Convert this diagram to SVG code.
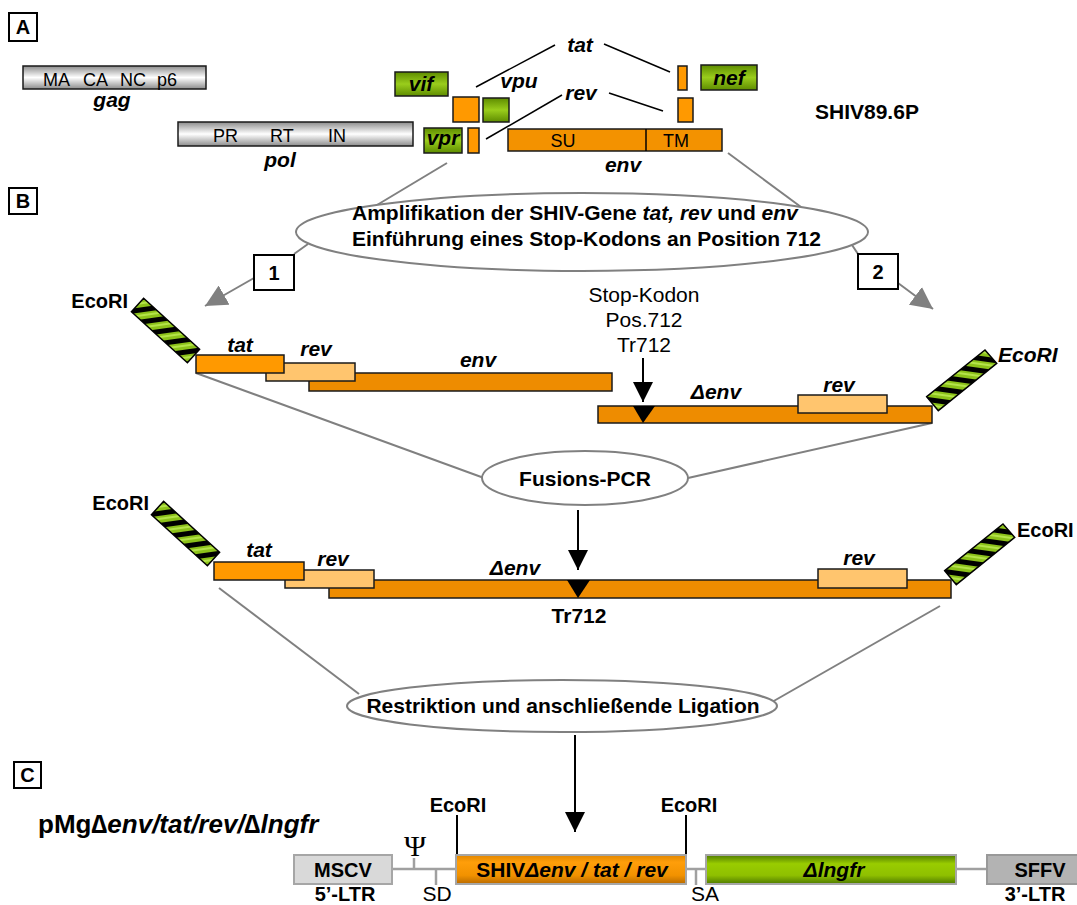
<svg xmlns="http://www.w3.org/2000/svg" width="1077" height="905" viewBox="0 0 1077 905">
<style>
text{font-family:"Liberation Sans",Arial,sans-serif;fill:#000}
.r{font-size:18px}
.r21{font-size:21px}
.b{font-size:21px;font-weight:bold}
.b20{font-size:20px;font-weight:bold}
.bi{font-size:21px;font-weight:bold;font-style:italic}
.m{text-anchor:middle}
.e{text-anchor:end}
.gk{stroke:#1a1a1a;stroke-width:1.5}
.or{fill:#FF9900}
.or2{fill:#EE8C00}
.lo{fill:#FFC56E}
.conn{stroke:#808080;stroke-width:2;fill:none}
.blk{stroke:#000;stroke-width:2;fill:none}
.spl{stroke:#000;stroke-width:1.5;fill:none}
.bb{stroke:#A0A0A0;stroke-width:2.5;fill:none}
.lbl{fill:#fff;stroke:#000;stroke-width:2}
.ell{fill:#fff;stroke:#808080;stroke-width:2}
.eco{stroke:#000;stroke-width:1.5}
</style>
<defs>
<linearGradient id="greyG" x1="0" y1="0" x2="0" y2="1">
<stop offset="0" stop-color="#8c8c8c"/><stop offset="0.5" stop-color="#ffffff"/><stop offset="1" stop-color="#8c8c8c"/>
</linearGradient>
<linearGradient id="greenG" x1="0" y1="0" x2="0" y2="1">
<stop offset="0" stop-color="#5E8C00"/><stop offset="0.5" stop-color="#9ACD1C"/><stop offset="1" stop-color="#5E8C00"/>
</linearGradient>
<linearGradient id="orC" x1="0" y1="0" x2="0" y2="1">
<stop offset="0" stop-color="#E08600"/><stop offset="0.25" stop-color="#FF9E0A"/><stop offset="0.7" stop-color="#F29200"/><stop offset="1" stop-color="#B86A00"/>
</linearGradient>
<linearGradient id="grC" x1="0" y1="0" x2="0" y2="1">
<stop offset="0" stop-color="#4F7A00"/><stop offset="0.3" stop-color="#99CC00"/><stop offset="0.7" stop-color="#8FC000"/><stop offset="1" stop-color="#4F7A00"/>
</linearGradient>
<pattern id="stripeD" patternUnits="userSpaceOnUse" width="12" height="12" patternTransform="rotate(-8)">
<rect width="12" height="12" fill="#8CC21A"/><rect y="7" width="12" height="2" fill="#B4E34A"/><rect width="12" height="5" fill="#000"/>
</pattern>
<pattern id="stripeU" patternUnits="userSpaceOnUse" width="12" height="12" patternTransform="rotate(8)">
<rect width="12" height="12" fill="#8CC21A"/><rect y="7" width="12" height="2" fill="#B4E34A"/><rect width="12" height="5" fill="#000"/>
</pattern>
<marker id="ahGrey" markerUnits="userSpaceOnUse" viewBox="0 0 20 20" refX="20" refY="10" markerWidth="22" markerHeight="22" orient="auto">
<path d="M0,0 L20,10 L0,20 Z" fill="#808080"/>
</marker>
<marker id="ahBlack" markerUnits="userSpaceOnUse" viewBox="0 0 20 20" refX="20" refY="10" markerWidth="20" markerHeight="20" orient="auto">
<path d="M0,0 L20,10 L0,20 Z" fill="#000"/>
</marker>
</defs>

<!-- section labels -->
<g id="labelA"><rect class="lbl" x="9" y="13" width="28" height="28"/><text class="b20 m" x="23" y="34">A</text></g>
<g id="labelB"><rect class="lbl" x="9" y="188" width="28" height="26"/><text class="b20 m" x="23" y="208">B</text></g>
<g id="labelC"><rect class="lbl" x="14" y="762" width="27" height="26"/><text class="b20 m" x="27.5" y="782">C</text></g>

<!-- connectors -->
<g id="connectors">
<line class="spl" x1="476" y1="87" x2="555" y2="45"/>
<line class="spl" x1="604" y1="44" x2="670" y2="72"/>
<line class="spl" x1="486" y1="139" x2="562" y2="95"/>
<line class="spl" x1="609" y1="93" x2="663" y2="111"/>
<line class="conn" x1="447" y1="163" x2="377" y2="205"/>
<line class="conn" x1="728" y1="153" x2="801" y2="207"/>
<line class="conn" x1="294" y1="254" x2="308" y2="244"/>
<line class="conn" x1="852" y1="245" x2="858" y2="254"/>
<line class="conn" x1="254" y1="278" x2="205" y2="306" marker-end="url(#ahGrey)"/>
<line class="conn" x1="898" y1="283" x2="933" y2="309" marker-end="url(#ahGrey)"/>
<line class="conn" x1="196" y1="373" x2="484" y2="478"/>
<line class="conn" x1="932" y1="423" x2="688" y2="478"/>
<line class="conn" x1="219" y1="588" x2="359" y2="694"/>
<line class="conn" x1="940" y1="606" x2="772" y2="702"/>
<line class="blk" x1="643" y1="358" x2="643" y2="402" marker-end="url(#ahBlack)"/>
<line class="blk" x1="578" y1="510" x2="578" y2="570" marker-end="url(#ahBlack)"/>
<line class="blk" x1="575" y1="735" x2="575" y2="832" marker-end="url(#ahBlack)"/>
</g>

<!-- Section A genome -->
<g id="gag"><rect class="gk" x="23" y="66" width="183" height="23" fill="url(#greyG)"/>
<text class="r" x="43" y="86">MA</text><text class="r" x="83" y="86">CA</text><text class="r" x="120" y="86">NC</text><text class="r" x="157" y="86">p6</text>
<text class="bi m" x="112" y="107">gag</text></g>
<g id="pol"><rect class="gk" x="178" y="122" width="235" height="24" fill="url(#greyG)"/>
<text class="r" x="213" y="142">PR</text><text class="r" x="270" y="142">RT</text><text class="r" x="328" y="142">IN</text>
<text class="bi m" x="280" y="167">pol</text></g>
<g id="vif"><rect class="gk" x="395" y="72" width="53" height="24" fill="url(#greenG)"/><text class="bi m" x="421" y="91">vif</text></g>
<g id="vpu"><rect class="gk or" x="453" y="97" width="26" height="25"/><rect class="gk" x="483" y="98" width="26" height="24" fill="url(#greenG)"/><text class="bi m" x="519" y="88">vpu</text></g>
<g id="vpr"><rect class="gk" x="424" y="128" width="38" height="25" fill="url(#greenG)"/><text class="bi m" x="443" y="145">vpr</text></g>
<g id="revExon1"><rect class="gk or" x="468" y="128" width="11" height="25"/></g>
<g id="tatLabel"><text class="bi m" x="580" y="52">tat</text></g>
<g id="revLabel"><text class="bi m" x="581" y="100">rev</text></g>
<g id="tatExon2"><rect class="gk or" x="678" y="66" width="9" height="24"/></g>
<g id="revExon2"><rect class="gk or" x="678" y="98" width="15" height="24"/></g>
<g id="nef"><rect class="gk" x="701" y="65" width="56" height="25" fill="url(#greenG)"/><text class="bi m" x="729" y="85">nef</text></g>
<g id="env"><rect class="gk" x="508" y="129" width="214" height="22" fill="#F39200"/><line class="spl" x1="646" y1="129" x2="646" y2="151"/>
<text class="r m" x="563" y="147">SU</text><text class="r m" x="676" y="147">TM</text>
<text class="bi m" x="623" y="172">env</text></g>
<g id="shivName"><text class="b" x="815" y="119">SHIV89.6P</text></g>

<!-- Section B -->
<g id="amplification"><ellipse class="ell" cx="582" cy="232" rx="286" ry="39"/>
<text class="b" x="352" y="220">Amplifikation der SHIV-Gene <tspan font-style="italic">tat, rev</tspan> und <tspan font-style="italic">env</tspan></text>
<text class="b" x="352" y="246">Einführung eines Stop-Kodons an Position 712</text></g>
<g id="box1"><rect class="lbl" x="254" y="255" width="40" height="35"/><text class="b20 m" x="274" y="280">1</text></g>
<g id="box2"><rect class="lbl" x="858" y="254" width="40" height="35"/><text class="b20 m" x="878" y="279">2</text></g>

<g id="fragment1">
<polygon class="eco" points="131.4,311.7 143.6,298.3 199.6,349.3 187.4,362.7" fill="url(#stripeD)"/>
<text class="b20 e" x="128" y="308">EcoRI</text>
<rect class="gk or2" x="309" y="373" width="303" height="18"/>
<rect class="gk lo" x="266" y="363" width="89" height="18"/>
<rect class="gk or" x="196" y="355" width="88" height="18"/>
<text class="bi m" x="240" y="352">tat</text>
<text class="bi m" x="316" y="356">rev</text>
<text class="bi m" x="478" y="367">env</text>
</g>
<g id="fragment2">
<rect class="gk or2" x="598" y="406" width="334" height="17"/>
<rect class="gk lo" x="798" y="395" width="89" height="18"/>
<polygon points="633,406 655,406 643,423" fill="#000"/>
<polygon class="eco" points="926.7,396.7 938.3,410.7 996.7,363.3 985,350" fill="url(#stripeU)"/>
<text class="bi" x="998" y="362">EcoRI</text>
<text class="bi m" x="716" y="399">Δenv</text>
<text class="bi m" x="839" y="392">rev</text>
<text class="r21 m" x="644" y="302">Stop-Kodon</text>
<text class="r21 m" x="644" y="327">Pos.712</text>
<text class="r21 m" x="644" y="352">Tr712</text>
</g>
<g id="fusionPCR"><ellipse class="ell" cx="585" cy="478" rx="103" ry="27"/><text class="b m" x="585" y="486">Fusions-PCR</text></g>

<g id="fusionProduct">
<polygon class="eco" points="151.4,514.7 163.6,501.3 219.6,552.3 207.4,565.7" fill="url(#stripeD)"/>
<text class="b20 e" x="149" y="510">EcoRI</text>
<rect class="gk or2" x="329" y="580" width="622" height="18"/>
<rect class="gk lo" x="285" y="570" width="89" height="18"/>
<rect class="gk or" x="214" y="562" width="90" height="18"/>
<rect class="gk lo" x="818" y="569" width="89" height="19"/>
<polygon points="567,580 590,580 578,598" fill="#000"/>
<polygon class="eco" points="944.7,570.7 956.3,584.7 1014.7,537.3 1003,524" fill="url(#stripeU)"/>
<text class="b20" x="1017" y="537">EcoRI</text>
<text class="bi m" x="259" y="557">tat</text>
<text class="bi m" x="333" y="566">rev</text>
<text class="bi m" x="515" y="575">Δenv</text>
<text class="bi m" x="859" y="565">rev</text>
<text class="b m" x="579" y="623">Tr712</text>
</g>
<g id="ligation"><ellipse class="ell" cx="562" cy="706" rx="215" ry="26"/><text class="b m" x="563" y="713">Restriktion und anschließende Ligation</text></g>

<!-- Section C -->
<g id="title"><text x="38" y="833" style="font-size:26px;font-weight:bold">pMg<tspan font-style="italic">∆env/tat/rev/∆lngfr</tspan></text></g>
<g id="backbone">
<line class="bb" x1="392" y1="869" x2="456" y2="869"/>
<line class="bb" x1="686" y1="869" x2="706" y2="869"/>
<line class="bb" x1="956" y1="869" x2="987" y2="869"/>
<line class="bb" x1="414" y1="858" x2="414" y2="869"/>
<line class="bb" x1="436" y1="869" x2="436" y2="885"/>
<line class="bb" x1="696" y1="869" x2="696" y2="885"/>
<text x="415" y="856" style="font-family:'Liberation Serif','Times New Roman',serif;font-size:30px;text-anchor:middle">Ψ</text>
<text class="r21 m" x="437" y="901">SD</text>
<text class="r21 m" x="705" y="901">SA</text>
<line class="blk" x1="457" y1="815" x2="457" y2="855"/>
<line class="blk" x1="686" y1="815" x2="686" y2="855"/>
<text class="b20 m" x="458" y="812">EcoRI</text>
<text class="b20 m" x="689" y="812">EcoRI</text>
</g>
<g id="mscv"><rect x="294" y="855" width="98" height="29" fill="#D9D9D9" stroke="#A6A6A6" stroke-width="2"/><text class="b20 m" x="343" y="877">MSCV</text><text class="b20 m" x="345" y="901">5’-LTR</text></g>
<g id="shivInsert"><rect x="456" y="855" width="230" height="29" fill="url(#orC)" stroke="#A6A6A6" stroke-width="2"/><text class="b m" x="572" y="877">SHIV<tspan font-style="italic">Δenv / tat / rev</tspan></text></g>
<g id="lngfr"><rect x="706" y="855" width="250" height="29" fill="url(#grC)" stroke="#A6A6A6" stroke-width="2"/><text class="bi m" x="834" y="877">Δlngfr</text></g>
<g id="sffv"><rect x="987" y="855" width="94" height="29" fill="#B3B3B3" stroke="#999" stroke-width="2"/><text class="b20 m" x="1040" y="877">SFFV</text><text class="b20 m" x="1035" y="901">3’-LTR</text></g>
</svg>
